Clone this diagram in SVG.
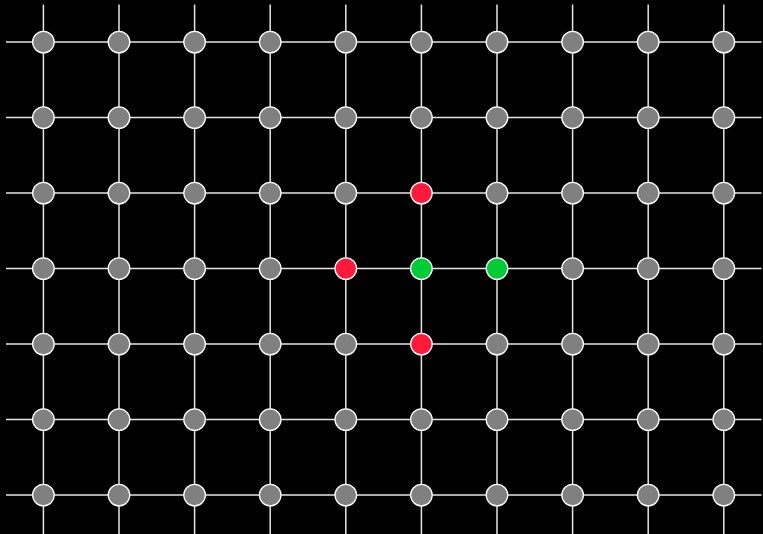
<svg xmlns="http://www.w3.org/2000/svg" width="763" height="534" viewBox="0 0 763 534">
<style>
.ln{stroke:#e6e6e6;stroke-width:1.5;fill:none}
.n{fill:#808080;stroke:#ffffff;stroke-width:1.3}
.r{fill:#ff1a3c;stroke:#ffffff;stroke-width:1.3}
.g{fill:#00cc38;stroke:#ffffff;stroke-width:1.3}
</style>
<rect x="0" y="0" width="763" height="534" fill="#000000"/>
<g id="connectors">
<line class="ln" x1="6" y1="42.1" x2="761.5" y2="42.1"/>
<line class="ln" x1="6" y1="117.6" x2="761.5" y2="117.6"/>
<line class="ln" x1="6" y1="193.1" x2="761.5" y2="193.1"/>
<line class="ln" x1="6" y1="268.6" x2="761.5" y2="268.6"/>
<line class="ln" x1="6" y1="344.1" x2="761.5" y2="344.1"/>
<line class="ln" x1="6" y1="419.6" x2="761.5" y2="419.6"/>
<line class="ln" x1="6" y1="495.1" x2="761.5" y2="495.1"/>
<line class="ln" x1="43.4" y1="4.5" x2="43.4" y2="534"/>
<line class="ln" x1="119" y1="4.5" x2="119" y2="534"/>
<line class="ln" x1="194.6" y1="4.5" x2="194.6" y2="534"/>
<line class="ln" x1="270.2" y1="4.5" x2="270.2" y2="534"/>
<line class="ln" x1="345.8" y1="4.5" x2="345.8" y2="534"/>
<line class="ln" x1="421.4" y1="4.5" x2="421.4" y2="534"/>
<line class="ln" x1="497" y1="4.5" x2="497" y2="534"/>
<line class="ln" x1="572.6" y1="4.5" x2="572.6" y2="534"/>
<line class="ln" x1="648.2" y1="4.5" x2="648.2" y2="534"/>
<line class="ln" x1="723.8" y1="4.5" x2="723.8" y2="534"/>
</g>
<g id="nodes">
<g id="n0-0"><circle class="n" cx="43.4" cy="42.1" r="10.8"/></g>
<g id="n1-0"><circle class="n" cx="119" cy="42.1" r="10.8"/></g>
<g id="n2-0"><circle class="n" cx="194.6" cy="42.1" r="10.8"/></g>
<g id="n3-0"><circle class="n" cx="270.2" cy="42.1" r="10.8"/></g>
<g id="n4-0"><circle class="n" cx="345.8" cy="42.1" r="10.8"/></g>
<g id="n5-0"><circle class="n" cx="421.4" cy="42.1" r="10.8"/></g>
<g id="n6-0"><circle class="n" cx="497" cy="42.1" r="10.8"/></g>
<g id="n7-0"><circle class="n" cx="572.6" cy="42.1" r="10.8"/></g>
<g id="n8-0"><circle class="n" cx="648.2" cy="42.1" r="10.8"/></g>
<g id="n9-0"><circle class="n" cx="723.8" cy="42.1" r="10.8"/></g>
<g id="n0-1"><circle class="n" cx="43.4" cy="117.6" r="10.8"/></g>
<g id="n1-1"><circle class="n" cx="119" cy="117.6" r="10.8"/></g>
<g id="n2-1"><circle class="n" cx="194.6" cy="117.6" r="10.8"/></g>
<g id="n3-1"><circle class="n" cx="270.2" cy="117.6" r="10.8"/></g>
<g id="n4-1"><circle class="n" cx="345.8" cy="117.6" r="10.8"/></g>
<g id="n5-1"><circle class="n" cx="421.4" cy="117.6" r="10.8"/></g>
<g id="n6-1"><circle class="n" cx="497" cy="117.6" r="10.8"/></g>
<g id="n7-1"><circle class="n" cx="572.6" cy="117.6" r="10.8"/></g>
<g id="n8-1"><circle class="n" cx="648.2" cy="117.6" r="10.8"/></g>
<g id="n9-1"><circle class="n" cx="723.8" cy="117.6" r="10.8"/></g>
<g id="n0-2"><circle class="n" cx="43.4" cy="193.1" r="10.8"/></g>
<g id="n1-2"><circle class="n" cx="119" cy="193.1" r="10.8"/></g>
<g id="n2-2"><circle class="n" cx="194.6" cy="193.1" r="10.8"/></g>
<g id="n3-2"><circle class="n" cx="270.2" cy="193.1" r="10.8"/></g>
<g id="n4-2"><circle class="n" cx="345.8" cy="193.1" r="10.8"/></g>
<g id="n5-2"><circle class="r" cx="421.4" cy="193.1" r="10.8"/></g>
<g id="n6-2"><circle class="n" cx="497" cy="193.1" r="10.8"/></g>
<g id="n7-2"><circle class="n" cx="572.6" cy="193.1" r="10.8"/></g>
<g id="n8-2"><circle class="n" cx="648.2" cy="193.1" r="10.8"/></g>
<g id="n9-2"><circle class="n" cx="723.8" cy="193.1" r="10.8"/></g>
<g id="n0-3"><circle class="n" cx="43.4" cy="268.6" r="10.8"/></g>
<g id="n1-3"><circle class="n" cx="119" cy="268.6" r="10.8"/></g>
<g id="n2-3"><circle class="n" cx="194.6" cy="268.6" r="10.8"/></g>
<g id="n3-3"><circle class="n" cx="270.2" cy="268.6" r="10.8"/></g>
<g id="n4-3"><circle class="r" cx="345.8" cy="268.6" r="10.8"/></g>
<g id="n5-3"><circle class="g" cx="421.4" cy="268.6" r="10.8"/></g>
<g id="n6-3"><circle class="g" cx="497" cy="268.6" r="10.8"/></g>
<g id="n7-3"><circle class="n" cx="572.6" cy="268.6" r="10.8"/></g>
<g id="n8-3"><circle class="n" cx="648.2" cy="268.6" r="10.8"/></g>
<g id="n9-3"><circle class="n" cx="723.8" cy="268.6" r="10.8"/></g>
<g id="n0-4"><circle class="n" cx="43.4" cy="344.1" r="10.8"/></g>
<g id="n1-4"><circle class="n" cx="119" cy="344.1" r="10.8"/></g>
<g id="n2-4"><circle class="n" cx="194.6" cy="344.1" r="10.8"/></g>
<g id="n3-4"><circle class="n" cx="270.2" cy="344.1" r="10.8"/></g>
<g id="n4-4"><circle class="n" cx="345.8" cy="344.1" r="10.8"/></g>
<g id="n5-4"><circle class="r" cx="421.4" cy="344.1" r="10.8"/></g>
<g id="n6-4"><circle class="n" cx="497" cy="344.1" r="10.8"/></g>
<g id="n7-4"><circle class="n" cx="572.6" cy="344.1" r="10.8"/></g>
<g id="n8-4"><circle class="n" cx="648.2" cy="344.1" r="10.8"/></g>
<g id="n9-4"><circle class="n" cx="723.8" cy="344.1" r="10.8"/></g>
<g id="n0-5"><circle class="n" cx="43.4" cy="419.6" r="10.8"/></g>
<g id="n1-5"><circle class="n" cx="119" cy="419.6" r="10.8"/></g>
<g id="n2-5"><circle class="n" cx="194.6" cy="419.6" r="10.8"/></g>
<g id="n3-5"><circle class="n" cx="270.2" cy="419.6" r="10.8"/></g>
<g id="n4-5"><circle class="n" cx="345.8" cy="419.6" r="10.8"/></g>
<g id="n5-5"><circle class="n" cx="421.4" cy="419.6" r="10.8"/></g>
<g id="n6-5"><circle class="n" cx="497" cy="419.6" r="10.8"/></g>
<g id="n7-5"><circle class="n" cx="572.6" cy="419.6" r="10.8"/></g>
<g id="n8-5"><circle class="n" cx="648.2" cy="419.6" r="10.8"/></g>
<g id="n9-5"><circle class="n" cx="723.8" cy="419.6" r="10.8"/></g>
<g id="n0-6"><circle class="n" cx="43.4" cy="495.1" r="10.8"/></g>
<g id="n1-6"><circle class="n" cx="119" cy="495.1" r="10.8"/></g>
<g id="n2-6"><circle class="n" cx="194.6" cy="495.1" r="10.8"/></g>
<g id="n3-6"><circle class="n" cx="270.2" cy="495.1" r="10.8"/></g>
<g id="n4-6"><circle class="n" cx="345.8" cy="495.1" r="10.8"/></g>
<g id="n5-6"><circle class="n" cx="421.4" cy="495.1" r="10.8"/></g>
<g id="n6-6"><circle class="n" cx="497" cy="495.1" r="10.8"/></g>
<g id="n7-6"><circle class="n" cx="572.6" cy="495.1" r="10.8"/></g>
<g id="n8-6"><circle class="n" cx="648.2" cy="495.1" r="10.8"/></g>
<g id="n9-6"><circle class="n" cx="723.8" cy="495.1" r="10.8"/></g>
</g>
</svg>
